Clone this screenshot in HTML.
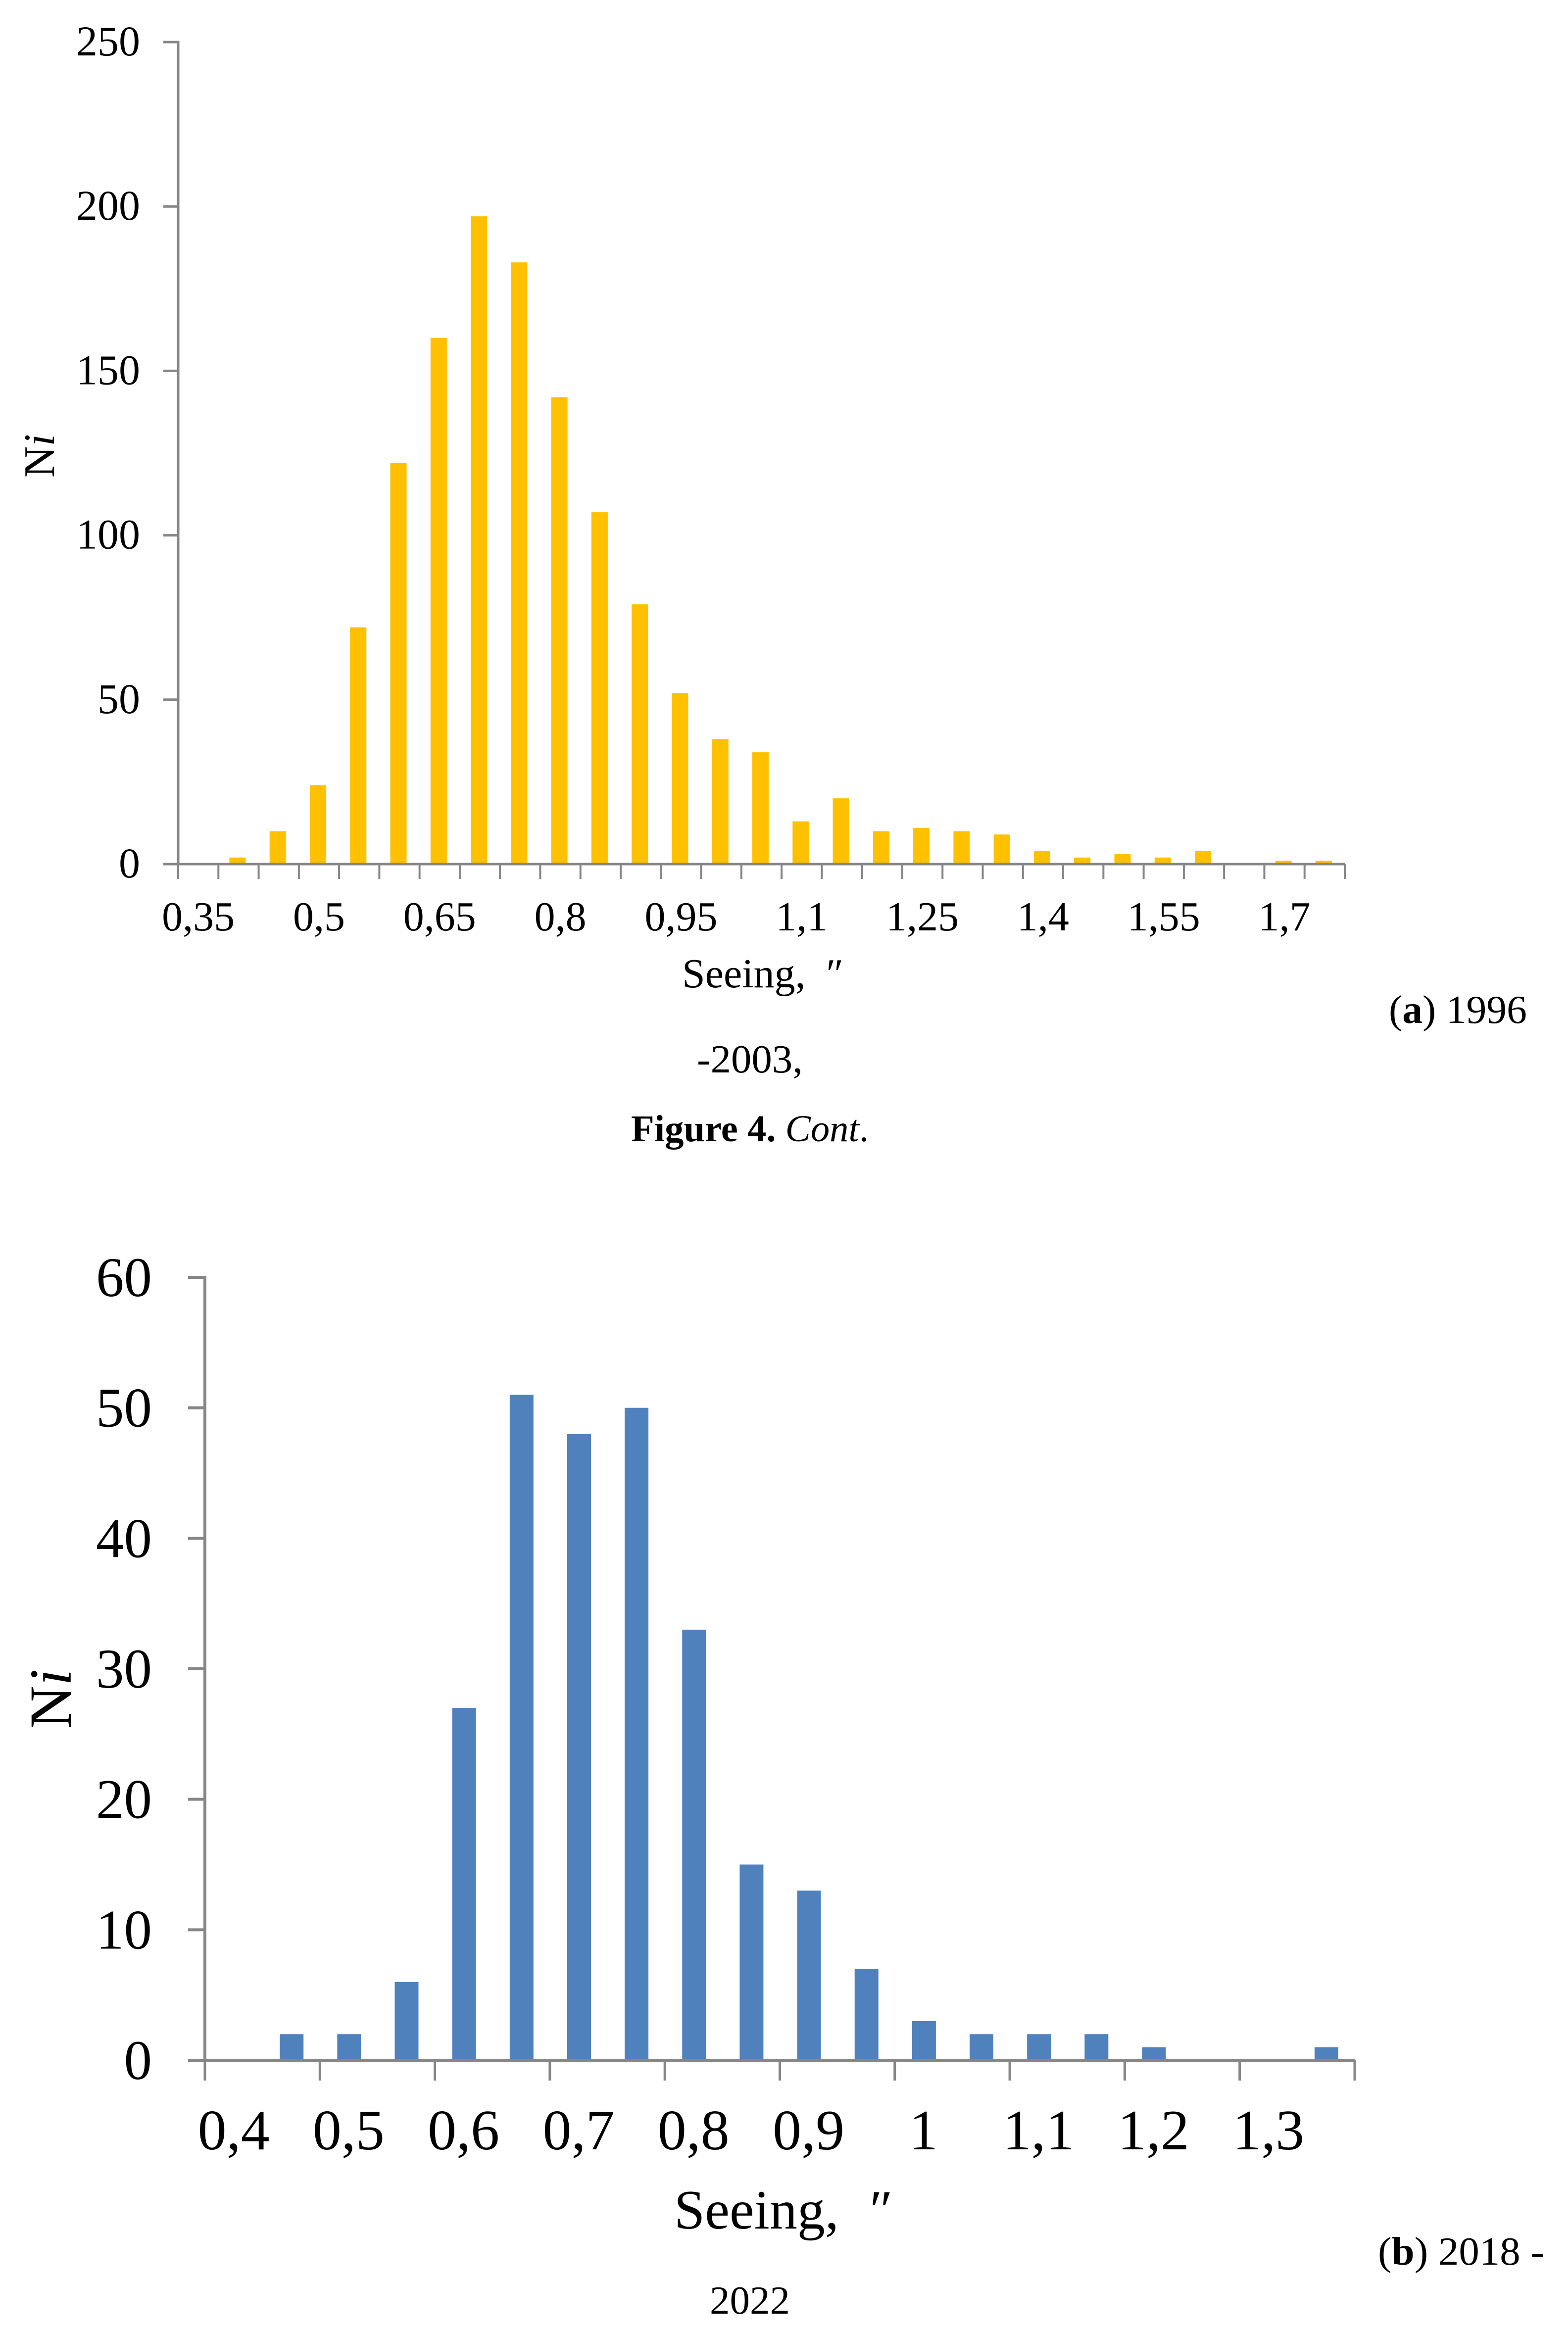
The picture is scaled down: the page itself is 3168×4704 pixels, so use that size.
<!DOCTYPE html>
<html lang="en">
<head>
<meta charset="utf-8">
<title>Seeing histograms - Figure 4 (cont.)</title>
<style>
  html, body { margin: 0; padding: 0; background: #ffffff; }
  body { width: 3168px; height: 4704px; overflow: hidden; }
  svg { display: block; font-family: "Liberation Serif", "DejaVu Serif", serif; fill: #000; }
</style>
</head>
<body>
<svg id="fig" xmlns="http://www.w3.org/2000/svg" width="3168" height="4704" viewBox="0 0 3168 4704">
  <rect x="0" y="0" width="3168" height="4704" fill="#ffffff"/>

  <g id="chartA"></g>
  <g id="chartB"></g>

  <text transform="translate(109,921) rotate(-90)" text-anchor="middle" font-size="88">N<tspan font-style="italic">i</tspan></text>
  <text x="1378" y="1995" font-size="84">Seeing,</text>
  <text x="1664" y="1995" font-size="84" font-style="italic">″</text>
  <text x="2806" y="2067" font-size="81" textLength="279" lengthAdjust="spacingAndGlyphs">(<tspan font-weight="bold">a</tspan>) 1996</text>
  <text x="1408" y="2167" font-size="81" textLength="214" lengthAdjust="spacingAndGlyphs">-2003,</text>
  <text x="1275" y="2306" font-size="76" textLength="480" lengthAdjust="spacingAndGlyphs"><tspan font-weight="bold">Figure 4. </tspan><tspan font-style="italic">Cont</tspan>.</text>

  <text transform="translate(143,3433) rotate(-90)" text-anchor="middle" font-size="121">N<tspan font-style="italic">i</tspan></text>
  <text x="1362" y="4503" font-size="112">Seeing,</text>
  <text x="1750" y="4503" font-size="112" font-style="italic">″</text>
  <text x="2784" y="4576" font-size="81" textLength="336" lengthAdjust="spacingAndGlyphs">(<tspan font-weight="bold">b</tspan>) 2018 -</text>
  <text x="1434" y="4675" font-size="81" textLength="162" lengthAdjust="spacingAndGlyphs">2022</text>
</svg>

<script>
var categoriesA = ['0,35','0,4','0,45','0,5','0,55','0,6','0,65','0,7','0,75','0,8','0,85','0,9','0,95','1','1,05','1,1','1,15','1,2','1,25','1,3','1,35','1,4','1,45','1,5','1,55','1,6','1,65','1,7','1,75'];
var valuesA = [0,2,10,24,72,122,160,197,183,142,107,79,52,38,34,13,20,10,11,10,9,4,2,3,2,4,0,1,1];
var yTicksA = [0,50,100,150,200,250];
var labeledCategoriesA = ['0,35','0,5','0,65','0,8','0,95','1,1','1,25','1,4','1,55','1,7'];

var categoriesB = ['0,4','0,45','0,5','0,55','0,6','0,65','0,7','0,75','0,8','0,85','0,9','0,95','1','1,05','1,1','1,15','1,2','1,25','1,3','1,35'];
var valuesB = [0,2,2,6,27,51,48,50,33,15,13,7,3,2,2,2,1,0,0,1];
var yTicksB = [0,10,20,30,40,50,60];
var labeledCategoriesB = ['0,4','0,5','0,6','0,7','0,8','0,9','1','1,1','1,2','1,3'];

var NS = 'http://www.w3.org/2000/svg';

function drawChart(group, prefix, cats, vals, yTicks, labeled, g) {
  function x(i) { return g.left + (g.right - g.left) * i / cats.length; }
  function y(v) { return g.bottom - (g.bottom - g.top) * v / g.yMax; }

  // bars
  vals.forEach(function (v, i) {
    if (v <= 0) return;
    var r = document.createElementNS(NS, 'rect');
    
    
    r.setAttribute('x', x(i + 0.5) - g.barW / 2 + g.barShift);
    r.setAttribute('y', y(v));
    r.setAttribute('width', g.barW);
    r.setAttribute('height', y(0) - y(v));
    r.setAttribute('fill', g.color);
    group.appendChild(r);
  });

  // y axis line
  var ya = document.createElementNS(NS, 'line');
  
  
  ya.setAttribute('x1', g.left); ya.setAttribute('x2', g.left);
  ya.setAttribute('y1', y(g.yMax) - g.sw / 2); ya.setAttribute('y2', y(0));
  ya.setAttribute('stroke', '#868686'); ya.setAttribute('stroke-width', g.sw);
  group.appendChild(ya);

  // x axis line
  var xa = document.createElementNS(NS, 'line');
  
  
  xa.setAttribute('x1', g.left); xa.setAttribute('x2', g.right);
  xa.setAttribute('y1', y(0)); xa.setAttribute('y2', y(0));
  xa.setAttribute('stroke', '#868686'); xa.setAttribute('stroke-width', g.sw);
  group.appendChild(xa);

  // y ticks + labels
  yTicks.forEach(function (t) {
    var tk = document.createElementNS(NS, 'line');
    
    
    tk.setAttribute('x1', g.left - g.yTickLen); tk.setAttribute('x2', g.left);
    tk.setAttribute('y1', y(t)); tk.setAttribute('y2', y(t));
    tk.setAttribute('stroke', '#868686'); tk.setAttribute('stroke-width', g.sw);
    group.appendChild(tk);

    var lb = document.createElementNS(NS, 'text');
    
    
    lb.setAttribute('x', g.yLabelRight);
    lb.setAttribute('y', y(t) + g.yLabelDy);
    lb.setAttribute('text-anchor', 'end');
    lb.setAttribute('font-size', g.yFont);
    lb.textContent = String(t);
    group.appendChild(lb);
  });

  // x ticks
  for (var k = 0; k <= cats.length; k += g.tickEvery) {
    var xt = document.createElementNS(NS, 'line');
    
    
    xt.setAttribute('x1', x(k)); xt.setAttribute('x2', x(k));
    xt.setAttribute('y1', y(0)); xt.setAttribute('y2', y(0) + g.xTickLen);
    xt.setAttribute('stroke', '#868686'); xt.setAttribute('stroke-width', g.tickSw);
    group.appendChild(xt);
  }

  // x labels
  labeled.forEach(function (name) {
    var idx = cats.indexOf(name);
    var xl = document.createElementNS(NS, 'text');
    
    
    xl.setAttribute('x', x(idx + 0.5));
    xl.setAttribute('y', g.xLabelY);
    xl.setAttribute('text-anchor', 'middle');
    xl.setAttribute('font-size', g.xFont);
    xl.textContent = name;
    group.appendChild(xl);
  });
}

drawChart(document.getElementById('chartA'), 'chart-a', categoriesA, valuesA, yTicksA, labeledCategoriesA, {
  left: 360, right: 2717, top: 85, bottom: 1746, yMax: 250,
  barW: 33, barShift: -2, color: '#FFC000', sw: 5, tickSw: 4, yTickLen: 30, xTickLen: 30,
  yLabelRight: 283, yLabelDy: 27, yFont: 86, xLabelY: 1880, xFont: 84, tickEvery: 1
});

drawChart(document.getElementById('chartB'), 'chart-b', categoriesB, valuesB, yTicksB, labeledCategoriesB, {
  left: 414, right: 2737, top: 2581, bottom: 4163, yMax: 60,
  barW: 48, barShift: 1, color: '#4F81BD', sw: 6, tickSw: 5, yTickLen: 34, xTickLen: 41,
  yLabelRight: 307, yLabelDy: 38, yFont: 113, xLabelY: 4343, xFont: 116, tickEvery: 2
});
</script>
</body>
</html>
